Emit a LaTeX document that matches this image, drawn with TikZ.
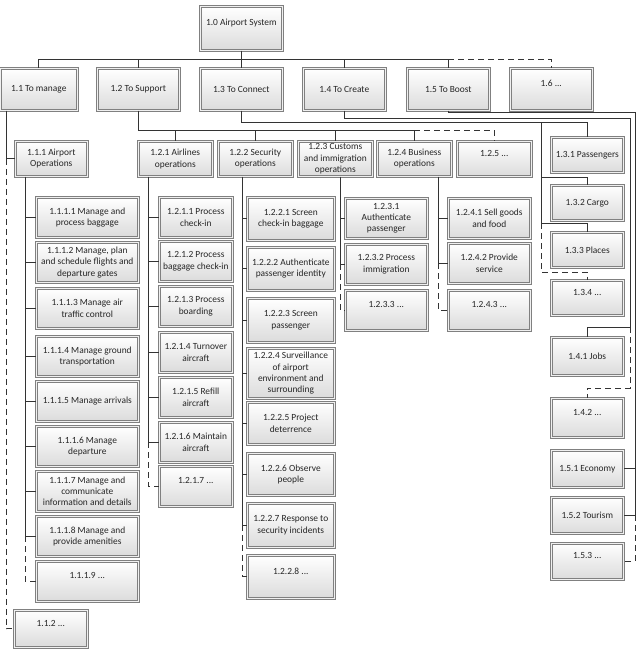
\documentclass[tikz,border=0pt]{standalone}
\usepackage{fontspec}
\setmainfont{Carlito}
\usetikzlibrary{shadows}
\tikzset{
  bx/.style={anchor=north west, draw=black!50, double=black!6, double distance=1.2pt,
    line width=0.6pt, top color=white, bottom color=black!14, align=center,
    inner sep=1pt, font=\fontsize{9.4}{11.4}\selectfont, text=black!85,
    drop shadow={opacity=0.18, shadow xshift=1pt, shadow yshift=-1.2pt}},
  ln/.style={draw=black!80, line width=0.9pt},
  dln/.style={ln, dash pattern=on 6pt off 4pt},
}
\newcommand\bxn[6]{\node[bx, minimum width=#4pt, minimum height=#5pt] (#1) at (#2,#3) {#6};}
\begin{document}
\begin{tikzpicture}[x=1pt,y=-1pt]
\useasboundingbox (0,0) rectangle (640,656);
% level 0 and 1
\bxn{n10}{200}{6}{82}{44}{1.0 Airport System\\ \mbox{}}
\bxn{n11}{0}{68}{77}{42}{1.1 To manage}
\bxn{n12}{97}{68}{82}{42}{1.2 To Support}
\bxn{n13}{200}{68}{82}{42}{1.3 To Connect}
\bxn{n14}{303}{68}{82}{42}{1.4 To Create}
\bxn{n15}{407}{68}{82}{42}{1.5 To Boost}
\bxn{n16}{510}{68}{82}{42}{1.6 ...\\ \mbox{}}
% level 2
\bxn{n111}{15}{141}{72}{35}{1.1.1 Airport\\Operations}
\bxn{n121}{138}{141}{74}{35}{1.2.1 Airlines\\operations}
\bxn{n122}{218}{141}{74}{35}{1.2.2 Security\\operations}
\bxn{n123}{298}{141}{74}{35}{1.2.3 Customs\\and immigration\\operations}
\bxn{n124}{377}{141}{74}{35}{1.2.4 Business\\operations}
\bxn{n125}{457}{141}{74}{35}{1.2.5 ...\\ \mbox{}}
% right column
\bxn{n131}{551}{137}{72}{35}{1.3.1 Passengers}
\bxn{n132}{551}{185}{72}{35}{1.3.2 Cargo}
\bxn{n133}{551}{232}{72}{35}{1.3.3 Places}
\bxn{n134}{551}{280}{72}{35}{1.3.4 ...\\ \mbox{}}
\bxn{n141}{551}{337}{72}{38}{1.4.1 Jobs}
\bxn{n142}{551}{398}{72}{39}{1.4.2 ...\\ \mbox{}}
\bxn{n151}{551}{450}{72}{37}{1.5.1 Economy}
\bxn{n152}{551}{497}{72}{36}{1.5.2 Tourism}
\bxn{n153}{551}{543}{72}{36}{1.5.3 ...\\ \mbox{}}
% 1.1.1 children
\bxn{n1111}{36}{197}{102}{40}{1.1.1.1 Manage and\\process baggage}
\bxn{n1112}{36}{242}{102}{40}{1.1.1.2 Manage, plan\\and schedule flights and\\departure gates}
\bxn{n1113}{36}{288}{102}{40}{1.1.1.3 Manage air\\traffic control}
\bxn{n1114}{36}{336}{102}{40}{1.1.1.4 Manage ground\\transportation}
\bxn{n1115}{36}{381}{102}{40}{1.1.1.5 Manage arrivals}
\bxn{n1116}{36}{426}{102}{40}{1.1.1.6 Manage\\departure}
\bxn{n1117}{36}{471}{102}{40}{1.1.1.7 Manage and\\communicate\\information and details}
\bxn{n1118}{36}{516}{102}{40}{1.1.1.8 Manage and\\provide amenities}
\bxn{n1119}{36}{561}{102}{40}{1.1.1.9 ...\\ \mbox{}}
\bxn{n112}{14}{610}{73}{37}{1.1.2 ...\\ \mbox{}}
% 1.2.1 children
\bxn{n1211}{159}{197}{73}{40}{1.2.1.1 Process\\check-in}
\bxn{n1212}{159}{241}{73}{40}{1.2.1.2 Process\\baggage check-in}
\bxn{n1213}{159}{286}{73}{40}{1.2.1.3 Process\\boarding}
\bxn{n1214}{159}{332}{73}{40}{1.2.1.4 Turnover\\aircraft}
\bxn{n1215}{159}{377}{73}{40}{1.2.1.5 Refill\\aircraft}
\bxn{n1216}{159}{422}{73}{40}{1.2.1.6 Maintain\\aircraft}
\bxn{n1217}{159}{466}{73}{40}{1.2.1.7 ...\\ \mbox{}}
% 1.2.2 children
\bxn{n1221}{247}{197}{87}{43}{1.2.2.1 Screen\\check-in baggage}
\bxn{n1222}{247}{247}{87}{43}{1.2.2.2 Authenticate\\passenger identity}
\bxn{n1223}{247}{298}{87}{44}{1.2.2.3 Screen\\passenger}
\bxn{n1224}{247}{348}{87}{50}{1.2.2.4 Surveillance\\of airport\\environment and\\surrounding}
\bxn{n1225}{247}{402}{87}{42}{1.2.2.5 Project\\deterrence}
\bxn{n1226}{247}{453}{87}{42}{1.2.2.6 Observe\\people}
\bxn{n1227}{247}{503}{87}{44}{1.2.2.7 Response to\\security incidents}
\bxn{n1228}{247}{555}{87}{43}{1.2.2.8 ...\\ \mbox{}}
% 1.2.3 children
\bxn{n1231}{345}{198}{82}{40}{1.2.3.1\\Authenticate\\passenger}
\bxn{n1232}{345}{244}{82}{40}{1.2.3.2 Process\\immigration}
\bxn{n1233}{345}{290}{82}{40}{1.2.3.3 ...\\ \mbox{}}
% 1.2.4 children
\bxn{n1241}{448}{198}{82}{40}{1.2.4.1 Sell goods\\and food}
\bxn{n1242}{448}{243}{82}{40}{1.2.4.2 Provide\\service}
\bxn{n1243}{448}{290}{82}{40}{1.2.4.3 ...\\ \mbox{}}

% ---- connectors ----
\coordinate (bus0) at (241,59);
\draw[ln] (n10.south) -- (n10.south |- bus0);
\draw[ln] (n11.north) |- (n15.north |- bus0) -- (n15.north);
\foreach \n in {n12,n13,n14} \draw[ln] (\n.north |- bus0) -- (\n.north);
\draw[dln] (n15.north |- bus0) -| (n16.north);

% 1.1
\coordinate (s11) at ([xshift=6pt]n11.south west);
\draw[ln] (s11) |- (n111.west);
\draw[dln] (s11 |- n111.west) |- (n112.west);

% 1.1.1
\coordinate (s111) at ([xshift=10pt]n111.south west);
\draw[ln] (s111) |- (n1118.west);
\foreach \k in {1,...,7} \draw[ln] (s111 |- n111\k.west) -- (n111\k.west);
\draw[dln] (s111 |- n1118.west) |- (n1119.west);

% 1.2 bus
\coordinate (bus2) at (0,130);
\draw[ln] (n12.south) |- (n124.north |- bus2) -- (n124.north);
\foreach \n in {n121,n122,n123} \draw[ln] (\n.north |- bus2) -- (\n.north);
\draw[dln] (n124.north |- bus2) -| (n125.north);

% 1.2.1
\coordinate (s121) at ([xshift=10pt]n121.south west);
\draw[ln] (s121) |- (n1216.west);
\foreach \k in {1,...,5} \draw[ln] (s121 |- n121\k.west) -- (n121\k.west);
\draw[dln] (s121 |- n1216.west) |- (n1217.west);

% 1.2.2
\coordinate (s122) at ([xshift=24pt]n122.south west);
\draw[ln] (s122) |- (n1227.west);
\foreach \k in {1,...,6} \draw[ln] (s122 |- n122\k.west) -- (n122\k.west);
\draw[dln] (s122 |- n1227.west) |- (n1228.west);

% 1.2.3
\coordinate (s123) at ([xshift=42pt]n123.south west);
\draw[ln] (s123) |- (n1232.west);
\draw[ln] (s123 |- n1231.west) -- (n1231.west);
\draw[dln] (s123 |- n1232.west) |- (n1233.west);

% 1.2.4
\coordinate (s124) at ([xshift=61pt]n124.south west);
\draw[ln] (s124) |- (n1242.west);
\draw[ln] (s124 |- n1241.west) -- (n1241.west);
\draw[dln] (s124 |- n1242.west) |- (n1243.west);

% 1.3
\coordinate (y122) at (0,122);
\draw[ln] (n13.south) |- (n131.north |- y122) -- (n131.north);
\coordinate (s13) at (541,122);
\coordinate (k132) at ([yshift=8pt]n132.north);
\coordinate (k133) at ([yshift=9pt]n133.north);
\coordinate (k134) at ([yshift=8pt]n134.north);
\draw[ln] (s13) |- (k133) -- (n133.north);
\draw[ln] (s13 |- k132) -- (k132) -- (n132.north);
\draw[dln] (s13 |- k133) |- (k134) -- (n134.north);

% 1.4
\coordinate (r14) at (630,118);
\coordinate (k141) at ([yshift=10pt]n141.north);
\coordinate (k142) at ([yshift=10pt]n142.north);
\draw[ln] (n14.south) |- (r14) |- (k141) -- (n141.north);
\draw[dln] (r14 |- k141) |- (k142) -- (n142.north);

% 1.5
\coordinate (r15) at (635,112);
\draw[ln] (n15.south) |- (r15) |- (n152.east);
\draw[ln] (r15 |- n151.east) -- (n151.east);
\draw[dln] (r15 |- n152.east) |- (n153.east);
\end{tikzpicture}
\end{document}
